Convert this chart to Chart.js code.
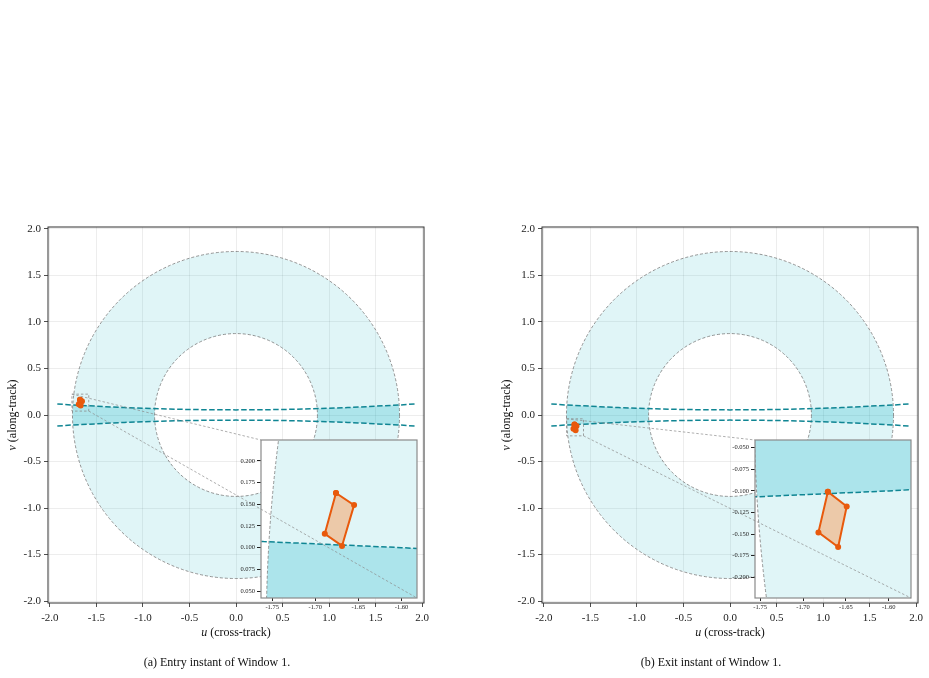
<!DOCTYPE html>
<html>
<head>
<meta charset="utf-8">
<script src="https://cdn.jsdelivr.net/npm/chart.js@4.4.1/dist/chart.umd.min.js"></script>
<style>
  body { margin: 0; background: #fff; }
  #page { position: relative; width: 929px; height: 678px; overflow: hidden; font-family: "Liberation Serif", serif; }
  canvas { position: absolute; }
  .cap { position: absolute; top: 655px; width: 300px; text-align: center; font-size: 12px; color: #111; }
</style>
</head>
<body>
<div id="page">
  <canvas id="mainA" width="464" height="440" style="left:0px;top:200px"></canvas>
  <canvas id="mainB" width="435" height="440" style="left:494px;top:200px"></canvas>
  <canvas id="insetA" width="200" height="185" style="left:221px;top:430px"></canvas>
  <canvas id="insetB" width="200" height="185" style="left:715px;top:430px"></canvas>
  <canvas id="links" width="929" height="678" style="left:0px;top:0px"></canvas>
  <div class="cap" style="left:67px">(a) Entry instant of Window 1.</div>
  <div class="cap" style="left:561px">(b) Exit instant of Window 1.</div>
</div>
<script>
// axis ticks
const mainTicks = [-2.0, -1.5, -1.0, -0.5, 0.0, 0.5, 1.0, 1.5, 2.0];
const insetUTicks = [-1.75, -1.70, -1.65, -1.60];
const insetVTicksA = [0.050, 0.075, 0.100, 0.125, 0.150, 0.175, 0.200];
const insetVTicksB = [-0.200, -0.175, -0.150, -0.125, -0.100, -0.075, -0.050];

// annulus radii
const rInner = 0.875;
const rOuter = 1.757;

// dashed boundary curves of the band
const bandU = [-1.92, -1.76, -1.6, -1.4, -1.2, -1.0, -0.8, -0.6, -0.4, -0.2, 0.0, 0.2, 0.4, 0.6, 0.8, 1.0, 1.2, 1.4, 1.6, 1.76, 1.92];
const bandUpper = [0.119, 0.107, 0.100, 0.089, 0.080, 0.072, 0.066, 0.061, 0.058, 0.056, 0.055, 0.056, 0.058, 0.061, 0.066, 0.072, 0.080, 0.089, 0.100, 0.107, 0.119];
const bandLower = [-0.119, -0.107, -0.100, -0.089, -0.080, -0.072, -0.066, -0.061, -0.058, -0.056, -0.055, -0.056, -0.058, -0.061, -0.066, -0.072, -0.080, -0.089, -0.100, -0.107, -0.119];

// footprint quadrilaterals
const polyAU = [-1.676, -1.655, -1.669, -1.689];
const polyAV = [0.163, 0.149, 0.102, 0.116];
const polyBU = [-1.671, -1.649, -1.659, -1.682];
const polyBV = [-0.101, -0.118, -0.165, -0.148];

// zoom windows
const insetAU = [-1.763, -1.582];
const insetAV = [0.042, 0.224];
const insetBU = [-1.756, -1.574];
const insetBV = [-0.224, -0.041];

const LIGHT = 'rgba(0,172,193,0.12)';
const DARK = 'rgba(0,172,193,0.23)';
const TEAL = '#0f8593';
const ORANGE = '#e8590c';
const PEACH = '#ecc9a9';
const SERIF = '"Liberation Serif", serif';

const pts = (us, vs) => us.map((u, i) => ({ x: u, y: vs[i] }));
const closed = (us, vs) => { const p = pts(us, vs); p.push(p[0]); return p; };

const fieldPlugin = {
  id: 'field',
  beforeDatasetsDraw(chart) {
    const { ctx, chartArea: a, scales: { x, y } } = chart;
    const cx = x.getPixelForValue(0), cy = y.getPixelForValue(0);
    const kx = x.getPixelForValue(1) - cx, ky = cy - y.getPixelForValue(1);
    const ring = () => {
      ctx.beginPath();
      ctx.ellipse(cx, cy, rOuter * kx, rOuter * ky, 0, 0, 2 * Math.PI);
      ctx.moveTo(cx + rInner * kx, cy);
      ctx.ellipse(cx, cy, rInner * kx, rInner * ky, 0, 0, 2 * Math.PI);
    };
    ctx.save();
    ctx.beginPath(); ctx.rect(a.left, a.top, a.width, a.height); ctx.clip();
    ring(); ctx.fillStyle = LIGHT; ctx.fill('evenodd');
    ctx.save();
    ring(); ctx.clip('evenodd');
    ctx.beginPath();
    bandU.forEach((u, i) => {
      const px = x.getPixelForValue(u), py = y.getPixelForValue(bandUpper[i]);
      i ? ctx.lineTo(px, py) : ctx.moveTo(px, py);
    });
    for (let i = bandU.length - 1; i >= 0; i--) ctx.lineTo(x.getPixelForValue(bandU[i]), y.getPixelForValue(bandLower[i]));
    ctx.closePath();
    ctx.fillStyle = DARK; ctx.fill();
    ctx.restore();
    // circle outlines
    ctx.strokeStyle = '#7a7a7a'; ctx.lineWidth = 0.8; ctx.setLineDash([3, 2]);
    [rOuter, rInner].forEach(r => {
      ctx.beginPath(); ctx.ellipse(cx, cy, r * kx, r * ky, 0, 0, 2 * Math.PI); ctx.stroke();
    });
    ctx.restore();
  }
};

function datasets(pu, pv, radius) {
  return [
    { data: closed(pu, pv), showLine: true, borderColor: ORANGE, borderWidth: 2, backgroundColor: PEACH,
      fill: 'shape', pointRadius: radius, pointBackgroundColor: ORANGE, pointBorderWidth: 0 },
    { data: pts(bandU, bandUpper), showLine: true, borderColor: TEAL, borderWidth: 1.5, borderDash: [5.5, 2.5], pointRadius: 0, fill: false },
    { data: pts(bandU, bandLower), showLine: true, borderColor: TEAL, borderWidth: 1.5, borderDash: [5.5, 2.5], pointRadius: 0, fill: false }
  ];
}

function makeMain(id, padRight, pu, pv, boxU, boxV) {
  const framePlugin = {
    id: 'frame',
    afterDatasetsDraw(chart) {
      const { ctx, scales: { x, y } } = chart;
      ctx.save();
      ctx.strokeStyle = '#8c8c8c'; ctx.lineWidth = 0.8; ctx.setLineDash([2.5, 2]);
      const l = x.getPixelForValue(boxU[0]), r = x.getPixelForValue(boxU[1]);
      const t = y.getPixelForValue(boxV[1]), b = y.getPixelForValue(boxV[0]);
      ctx.strokeRect(l, t, r - l, b - t);
      ctx.restore();
    },
    afterDraw(chart) {
      const { ctx, chartArea: a } = chart;
      ctx.save();
      ctx.strokeStyle = '#333'; ctx.lineWidth = 1;
      ctx.strokeRect(a.left, a.top, a.width, a.height);
      ctx.fillStyle = '#111'; ctx.textBaseline = 'middle';
      // x title
      ctx.font = 'italic 12px ' + SERIF;
      const wu = ctx.measureText('u').width;
      ctx.font = '12px ' + SERIF;
      const wr = ctx.measureText(' (cross-track)').width;
      let sx = (a.left + a.right) / 2 - (wu + wr) / 2;
      const ty = a.bottom + 30;
      ctx.font = 'italic 12px ' + SERIF; ctx.textAlign = 'left'; ctx.fillText('u', sx, ty);
      ctx.font = '12px ' + SERIF; ctx.fillText(' (cross-track)', sx + wu, ty);
      // y title
      ctx.translate(12.5, (a.top + a.bottom) / 2);
      ctx.rotate(-Math.PI / 2);
      ctx.font = 'italic 12px ' + SERIF;
      const wv = ctx.measureText('v').width;
      ctx.font = '12px ' + SERIF;
      const wa = ctx.measureText(' (along-track)').width;
      sx = -(wv + wa) / 2;
      ctx.font = 'italic 12px ' + SERIF; ctx.fillText('v', sx, 0);
      ctx.font = '12px ' + SERIF; ctx.fillText(' (along-track)', sx + wv, 0);
      ctx.restore();
    }
  };
  const axis = (extra, pad) => Object.assign({
    type: 'linear', min: -2.02, max: 2.02,
    afterBuildTicks: s => { s.ticks = mainTicks.map(v => ({ value: v })); },
    grid: { color: 'rgba(0,0,0,0.09)', lineWidth: 0.8, tickColor: '#222', tickLength: 4 },
    border: { display: false },
    ticks: { font: { family: SERIF, size: 11 }, color: '#222', padding: pad, autoSkip: false, maxRotation: 0,
      callback: v => v.toFixed(1) }
  }, extra);
  return new Chart(document.getElementById(id), {
    type: 'scatter',
    data: { datasets: datasets(pu, pv, 3) },
    options: {
      responsive: false, animation: false, devicePixelRatio: 1,
      layout: { padding: { top: 27, right: padRight, bottom: 0, left: 0 } },
      plugins: { legend: { display: false }, tooltip: { enabled: false } },
      scales: {
        x: axis({ afterFit: s => { s.height = 37; } }, 5),
        y: axis({ afterFit: s => { s.width = 48; } }, 3)
      }
    },
    plugins: [fieldPlugin, framePlugin]
  });
}

function makeInset(id, pu, pv, rangeU, rangeV, vTicks) {
  const boxPlugin = {
    id: 'insetbox',
    beforeDraw(chart) {
      const { ctx, chartArea: a } = chart;
      ctx.save(); ctx.fillStyle = '#fff'; ctx.fillRect(a.left, a.top, a.width, a.height); ctx.restore();
    },
    afterDraw(chart) {
      const { ctx, chartArea: a } = chart;
      ctx.save(); ctx.strokeStyle = '#8a8a8a'; ctx.lineWidth = 1.2;
      ctx.strokeRect(a.left, a.top, a.width, a.height); ctx.restore();
    }
  };
  const tickFont = { family: SERIF, size: 6.5 };
  return new Chart(document.getElementById(id), {
    type: 'scatter',
    data: { datasets: datasets(pu, pv, 3) },
    options: {
      responsive: false, animation: false, devicePixelRatio: 1,
      layout: { padding: { top: 10, right: 3, bottom: 0, left: 0 } },
      plugins: { legend: { display: false }, tooltip: { enabled: false } },
      scales: {
        x: { type: 'linear', min: rangeU[0], max: rangeU[1],
          afterBuildTicks: s => { s.ticks = insetUTicks.map(v => ({ value: v })); },
          afterFit: s => { s.height = 17; },
          grid: { drawOnChartArea: false, tickColor: '#222', tickLength: 3 },
          border: { display: false },
          ticks: { font: tickFont, color: '#222', padding: 2, autoSkip: false, maxRotation: 0, callback: v => v.toFixed(2) } },
        y: { type: 'linear', min: rangeV[0], max: rangeV[1],
          afterBuildTicks: s => { s.ticks = vTicks.map(v => ({ value: v })); },
          afterFit: s => { s.width = 40; },
          grid: { drawOnChartArea: false, tickColor: '#222', tickLength: 4 },
          border: { display: false },
          ticks: { font: tickFont, color: '#222', padding: 2, autoSkip: false, callback: v => v.toFixed(3) } }
      }
    },
    plugins: [fieldPlugin, boxPlugin]
  });
}

const mainA = makeMain('mainA', 40, polyAU, polyAV, insetAU, insetAV);
const mainB = makeMain('mainB', 11, polyBU, polyBV, insetBU, insetBV);
const insA = makeInset('insetA', polyAU, polyAV, insetAU, insetAV, insetVTicksA);
const insB = makeInset('insetB', polyBU, polyBV, insetBU, insetBV, insetVTicksB);

// connector lines from the zoom box to the inset corners
function connect(ctx, main, inset, boxU, boxV) {
  const mo = main.canvas, io = inset.canvas;
  const mx = main.scales.x, my = main.scales.y, a = inset.chartArea;
  const segs = [
    [[mo.offsetLeft + mx.getPixelForValue(boxU[0]), mo.offsetTop + my.getPixelForValue(boxV[1])], [io.offsetLeft + a.left, io.offsetTop + a.top]],
    [[mo.offsetLeft + mx.getPixelForValue(boxU[1]), mo.offsetTop + my.getPixelForValue(boxV[0])], [io.offsetLeft + a.right, io.offsetTop + a.bottom]]
  ];
  ctx.save();
  ctx.strokeStyle = '#8c8c8c'; ctx.lineWidth = 0.7; ctx.setLineDash([2.5, 2]);
  segs.forEach(([p, q]) => { ctx.beginPath(); ctx.moveTo(p[0], p[1]); ctx.lineTo(q[0], q[1]); ctx.stroke(); });
  ctx.restore();
}
const lctx = document.getElementById('links').getContext('2d');
connect(lctx, mainA, insA, insetAU, insetAV);
connect(lctx, mainB, insB, insetBU, insetBV);
</script>
</body>
</html>
